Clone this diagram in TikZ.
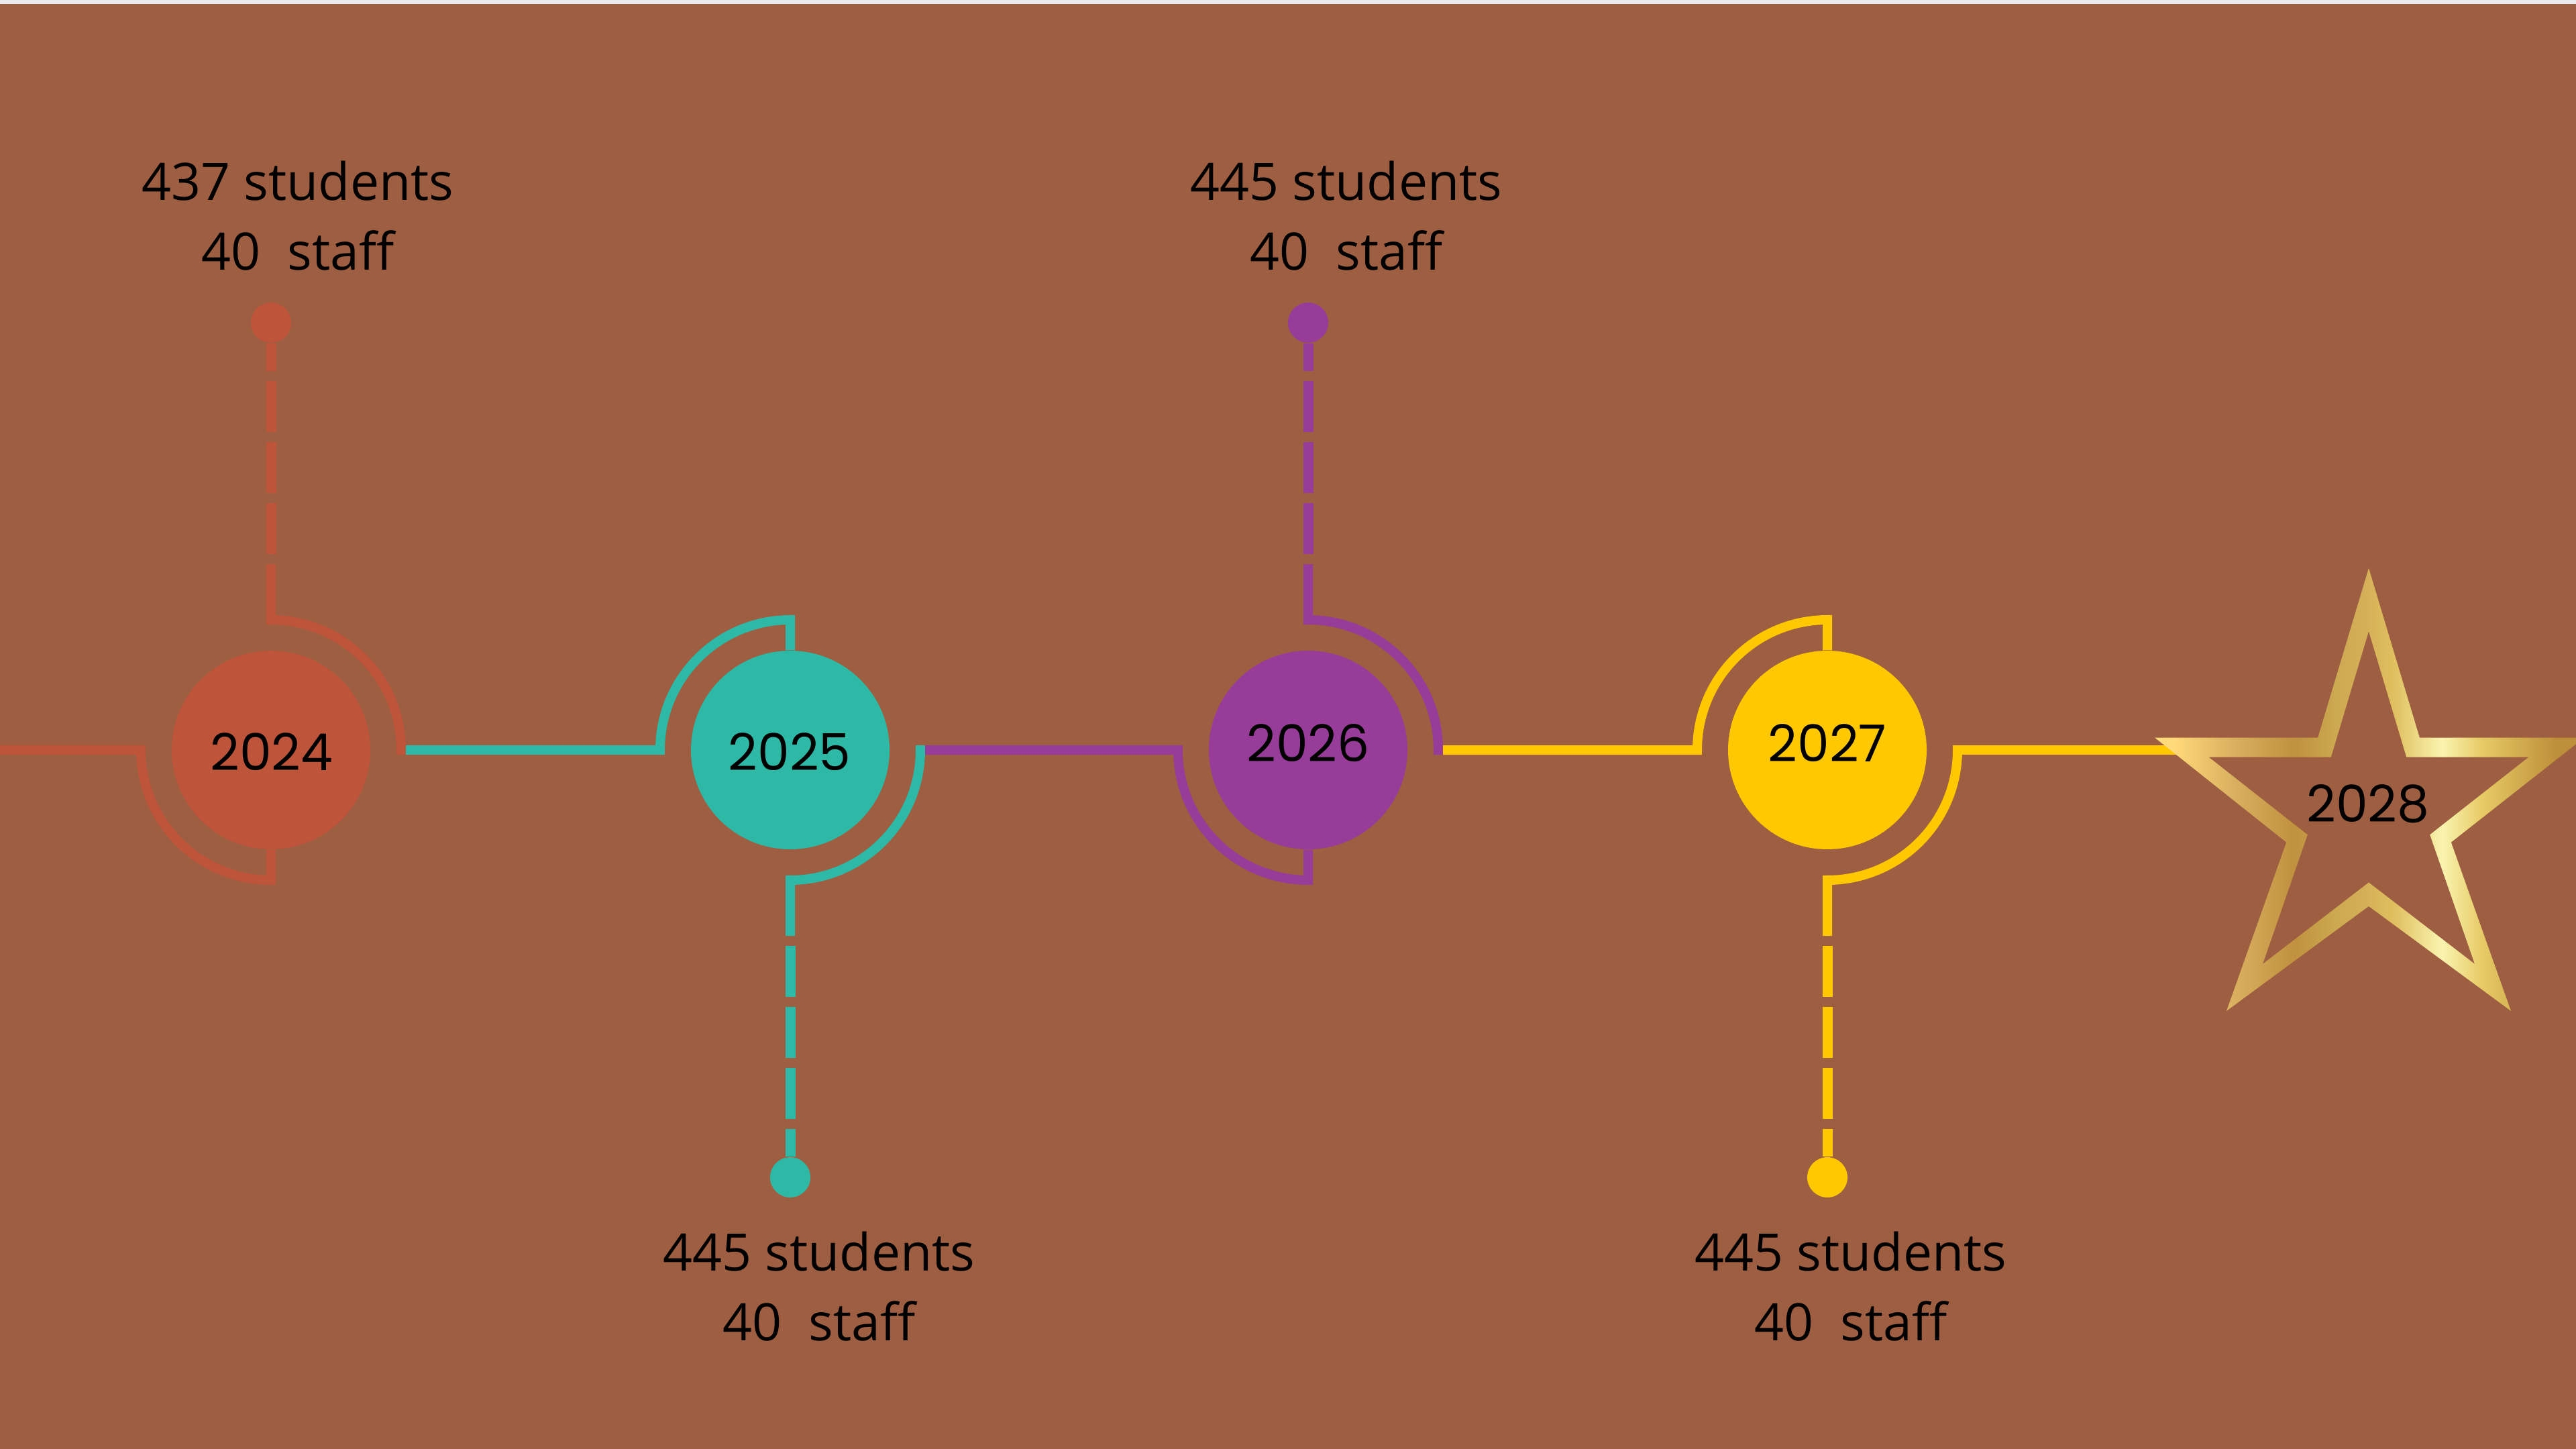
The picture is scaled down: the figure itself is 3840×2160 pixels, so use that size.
\documentclass[tikz,border=0pt]{standalone}
\usepackage{fontspec}
\usetikzlibrary{calc}
\newfontfamily\lblfont{Open Sans}
\newfontfamily\yrfont{Poppins}
\definecolor{bg}{HTML}{9D5E41}
\definecolor{topstrip}{HTML}{EAEAEE}
\definecolor{cor}{HTML}{BE553B}
\definecolor{cte}{HTML}{2EB8A6}
\definecolor{cpu}{HTML}{983C9A}
\definecolor{cye}{HTML}{FFC800}
\definecolor{g0}{HTML}{FFDC80}
\definecolor{g1}{HTML}{FFD97A}
\definecolor{g2}{HTML}{D9B060}
\definecolor{g3}{HTML}{C0913F}
\definecolor{g4}{HTML}{CCA850}
\definecolor{g5}{HTML}{D6B058}
\definecolor{g6}{HTML}{E0C060}
\definecolor{g7}{HTML}{FAF4B0}
\definecolor{g8}{HTML}{E7CA66}
\definecolor{g9}{HTML}{BE8F3A}
\pgfdeclarehorizontalshading{goldgrad}{100bp}{color(0bp)=(g0); color(25bp)=(g0); color(27.7bp)=(g1); color(34.6bp)=(g2); color(41.5bp)=(g3); color(46.1bp)=(g4); color(49.8bp)=(g5); color(53bp)=(g6); color(58.4bp)=(g7); color(63bp)=(g8); color(71.5bp)=(g9); color(75bp)=(g9); color(100bp)=(g9)}
\begin{document}
\begin{tikzpicture}[x=0.1mm,y=-0.1mm,
  ln/.style={draw=#1, line width=1.4mm, line join=miter},
  dl/.style={draw=#1, line width=1.5mm, dash pattern=on 7.6mm off 1.5mm},
  yearcirc/.style={circle, fill=#1, minimum size=29.6mm, inner sep=0pt},
  enddot/.style={circle, fill=#1, minimum size=6mm, inner sep=0pt},
  lbl/.style={font=\lblfont\fontsize{21.9pt}{26pt}\selectfont, text=black, anchor=base, inner sep=0pt},
  yr/.style={font=\yrfont\fontsize{21.6pt}{26pt}\selectfont, text=black, anchor=base, inner sep=0pt}]
\useasboundingbox (0,0) rectangle (3840,2160);
\fill[bg] (0,0) rectangle (3840,2160);
\fill[topstrip] (0,0) rectangle (3840,6);

% centres
\coordinate (k2024) at (404,1118);
\coordinate (k2025) at (1178,1118);
\coordinate (k2026) at (1950,1118);
\coordinate (k2027) at (2724,1118);
\coordinate (starL) at (3265,1118);

% circles and end dots
\node[yearcirc=cor] (c2024) at (k2024) {};
\node[yearcirc=cte] (c2025) at (k2025) {};
\node[yearcirc=cpu] (c2026) at (k2026) {};
\node[yearcirc=cye] (c2027) at (k2027) {};
\node[enddot=cor] (d2024) at ($(k2024)+(0,-637)$) {};
\node[enddot=cte] (d2025) at ($(k2025)+(0,637)$) {};
\node[enddot=cpu] (d2026) at ($(k2026)+(0,-637)$) {};
\node[enddot=cye] (d2027) at ($(k2027)+(0,637)$) {};

% 2024 (label above)
\draw[ln=cor] (0,1118) -- ($(k2024)+(-194,0)$) arc[start angle=180,end angle=90,radius=194] -- (c2024.south);
\draw[ln=cor] ($(k2024)+(0,-277)$) -- ($(k2024)+(0,-194)$) arc[start angle=-90,end angle=0,radius=194] -- ++(0,7);
\draw[dl=cor] ($(k2024)+(0,-292)$) -- (d2024);

% 2025 (label below)
\draw[ln=cte] ($(k2024)+(201,0)$) -- ($(k2025)+(-194,0)$) arc[start angle=180,end angle=270,radius=194] -- (c2025.north);
\draw[ln=cte] ($(k2025)+(194,-7)$) -- ($(k2025)+(194,0)$) arc[start angle=0,end angle=90,radius=194] -- ($(k2025)+(0,277)$);
\draw[dl=cte] ($(k2025)+(0,292)$) -- (d2025);

% 2026 (label above)
\draw[ln=cpu] ($(k2025)+(201,0)$) -- ($(k2026)+(-194,0)$) arc[start angle=180,end angle=90,radius=194] -- (c2026.south);
\draw[ln=cpu] ($(k2026)+(0,-277)$) -- ($(k2026)+(0,-194)$) arc[start angle=-90,end angle=0,radius=194] -- ++(0,7);
\draw[dl=cpu] ($(k2026)+(0,-292)$) -- (d2026);

% 2027 (label below)
\draw[ln=cye] ($(k2026)+(201,0)$) -- ($(k2027)+(-194,0)$) arc[start angle=180,end angle=270,radius=194] -- (c2027.north);
\draw[ln=cye] ($(k2027)+(194,-7)$) -- ($(k2027)+(194,0)$) arc[start angle=0,end angle=90,radius=194] -- ($(k2027)+(0,277)$);
\draw[dl=cye] ($(k2027)+(0,292)$) -- (d2027);

% line to the star
\draw[ln=cye] ($(k2027)+(201,0)$) -- (starL);

% star outline with gold gradient (outer outline minus reversed inner outline)
\begin{scope}
\clip (3212,1099.5) -- (3455.2,1099.5) -- (3531,846.9) -- (3606.8,1099.5) -- (3852.4,1099.5) -- (3653.8,1255.6) -- (3743,1507) -- (3531,1350.9) -- (3319,1507) -- (3408.2,1255.6) -- cycle
  (3292.4,1128.5) -- (3439.8,1244.3) -- (3373,1437) -- (3531,1315.5) -- (3689,1437) -- (3622.2,1244.3) -- (3769.6,1128.5) -- (3587.2,1128.5) -- (3531,941.1) -- (3474.8,1128.5) -- cycle;
\shade[shading=goldgrad] (3205,840) rectangle (3856,1515);
\end{scope}

% year texts
\node[yr] (y2024) at (405,1148) {2024};
\node[yr] (y2025) at (1177,1148) {2025};
\node[yr] (y2026) at (1950,1135) {2026};
\node[yr] (y2027) at (2724,1135) {2027};
\node[yr] (y2028) at (3530,1225) {2028};

% labels
\node[lbl] (l2024a) at (444,298) {437 students};
\node[lbl] (l2024b) at (444,402) {40\ \ staff};
\node[lbl] (l2025a) at (1221,1894) {445 students};
\node[lbl] (l2025b) at (1221,1998) {40\ \ staff};
\node[lbl] (l2026a) at (2007,298) {445 students};
\node[lbl] (l2026b) at (2007,402) {40\ \ staff};
\node[lbl] (l2027a) at (2759,1894) {445 students};
\node[lbl] (l2027b) at (2759,1998) {40\ \ staff};
\end{tikzpicture}
\end{document}
